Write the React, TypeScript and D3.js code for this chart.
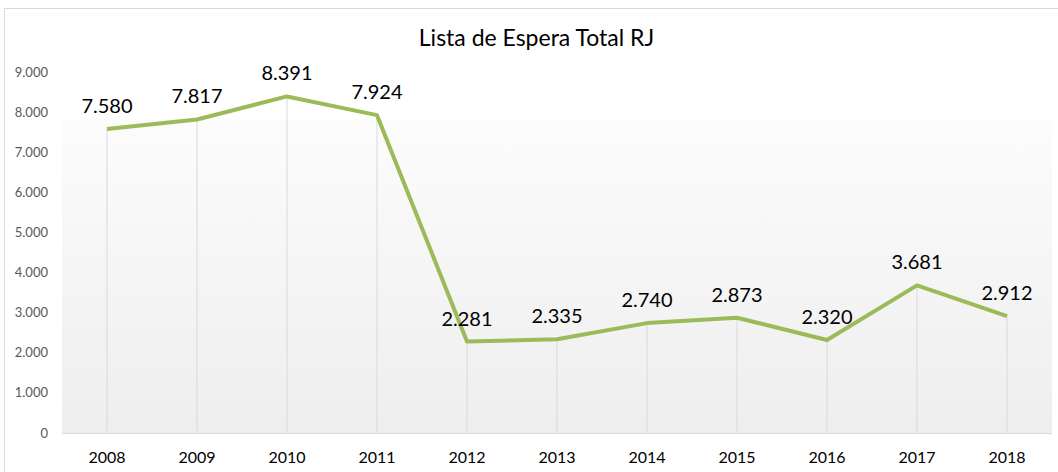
import React from "react";
import * as d3 from "d3";

const years = ["2008", "2009", "2010", "2011", "2012", "2013", "2014", "2015", "2016", "2017", "2018"];
const values = [7580, 7817, 8391, 7924, 2281, 2335, 2740, 2873, 2320, 3681, 2912];
const yTicks = [0, 1000, 2000, 3000, 4000, 5000, 6000, 7000, 8000, 9000];
const title = "Lista de Espera Total RJ";

const W = 1058;
const H = 472;
const FONT = "Lato, 'Open Sans', sans-serif";

const fmt = (v: number) => (v === 0 ? "0" : d3.format(",")(v).replace(/,/g, "."));

export default function App() {
  const x = d3.scaleBand<string>().domain(years).range([62, 1052]);
  const y = d3.scaleLinear().domain([0, 9000]).range([433, 72]);
  const cx = (d: string) => (x(d) as number) + x.bandwidth() / 2;
  const line = d3
    .line<number>()
    .x((_, i) => cx(years[i]))
    .y((d) => y(d));

  return (
    <svg
      width={W}
      height={H}
      style={{ position: "absolute", left: 0, top: 0, display: "block" }}
      fontFamily={FONT}
    >
      <defs>
        <linearGradient id="plotbg" x1="0" y1="0" x2="0" y2="1">
          <stop offset="0" stopColor="#ffffff" />
          <stop offset="0.13" stopColor="#ffffff" />
          <stop offset="0.13" stopColor="#fcfcfc" />
          <stop offset="1" stopColor="#eeeeee" />
        </linearGradient>
      </defs>
      <rect x={0} y={0} width={W} height={H} fill="#ffffff" />
      <rect x={4.5} y={8.5} width={W} height={H} fill="none" stroke="#d9d9d9" strokeWidth={1} />
      <rect x={62} y={y(9000)} width={990} height={y(0) - y(9000)} fill="url(#plotbg)" />
      <text x={536.5} y={46} textAnchor="middle" fontSize={23} fill="#000000">
        {title}
      </text>
      {yTicks.map((t) => (
        <text key={t} x={48} y={y(t)} dy="0.35em" textAnchor="end" fontSize={13} fill="#595959">
          {fmt(t)}
        </text>
      ))}
      {years.map((yr, i) => (
        <line
          key={yr}
          x1={cx(yr)}
          x2={cx(yr)}
          y1={y(values[i])}
          y2={y(0)}
          stroke="#d9d9d9"
          strokeWidth={1}
        />
      ))}
      <line x1={62} x2={1052} y1={y(0) + 0.5} y2={y(0) + 0.5} stroke="#d9d9d9" strokeWidth={1} />
      {years.map((yr) => (
        <text key={yr} x={cx(yr)} y={463} textAnchor="middle" fontSize={16} fill="#000000">
          {yr}
        </text>
      ))}
      <path d={line(values) || ""} fill="none" stroke="#9bbb59" strokeWidth={4} strokeLinejoin="round" />
      {years.map((yr, i) => (
        <text key={yr} x={cx(yr)} y={y(values[i]) - 16} textAnchor="middle" fontSize={20} fill="#000000">
          {fmt(values[i])}
        </text>
      ))}
    </svg>
  );
}
